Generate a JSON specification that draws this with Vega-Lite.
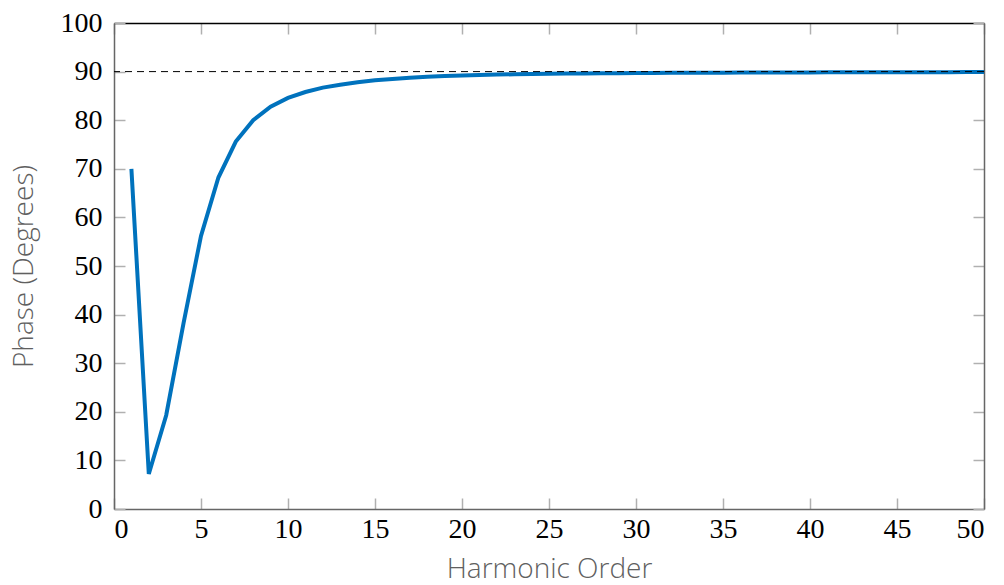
{
  "$schema": "https://vega.github.io/schema/vega-lite/v6.json",
  "width": 870,
  "height": 486,
  "autosize": {"type": "none"},
  "padding": {"left": 114, "top": 23, "right": 20, "bottom": 76},
  "background": "white",
  "config": {
    "view": {"stroke": null},
    "axis": {
      "grid": false,
      "domainColor": "#666666",
      "domainWidth": 1.5,
      "tickColor": "#b0b0b0",
      "tickWidth": 1.5,
      "tickSize": -11,
      "labelFont": "Liberation Serif",
      "labelFontSize": 28,
      "labelColor": "#000000",
      "titleFont": "Open Sans",
      "titleFontWeight": 300,
      "titleFontSize": 28,
      "titleColor": "#606060"
    }
  },
  "datasets": {
    "phase": [
      {"n": 1, "p": 70}, {"n": 2, "p": 7.2}, {"n": 3, "p": 19.3}, {"n": 4, "p": 38.3},
      {"n": 5, "p": 56.2}, {"n": 6, "p": 68.2}, {"n": 7, "p": 75.6}, {"n": 8, "p": 80.0},
      {"n": 9, "p": 82.8}, {"n": 10, "p": 84.6}, {"n": 11, "p": 85.8}, {"n": 12, "p": 86.7},
      {"n": 13, "p": 87.3}, {"n": 14, "p": 87.8}, {"n": 15, "p": 88.2}, {"n": 16, "p": 88.5},
      {"n": 17, "p": 88.75}, {"n": 18, "p": 88.95}, {"n": 19, "p": 89.1}, {"n": 20, "p": 89.2},
      {"n": 21, "p": 89.3}, {"n": 22, "p": 89.38}, {"n": 23, "p": 89.45}, {"n": 24, "p": 89.5},
      {"n": 25, "p": 89.55}, {"n": 26, "p": 89.59}, {"n": 27, "p": 89.62}, {"n": 28, "p": 89.65},
      {"n": 29, "p": 89.68}, {"n": 30, "p": 89.7}, {"n": 31, "p": 89.72}, {"n": 32, "p": 89.74},
      {"n": 33, "p": 89.76}, {"n": 34, "p": 89.77}, {"n": 35, "p": 89.78}, {"n": 36, "p": 89.8},
      {"n": 37, "p": 89.81}, {"n": 38, "p": 89.82}, {"n": 39, "p": 89.83}, {"n": 40, "p": 89.84},
      {"n": 41, "p": 89.85}, {"n": 42, "p": 89.855}, {"n": 43, "p": 89.86}, {"n": 44, "p": 89.87},
      {"n": 45, "p": 89.875}, {"n": 46, "p": 89.88}, {"n": 47, "p": 89.885}, {"n": 48, "p": 89.89},
      {"n": 49, "p": 89.895}, {"n": 50, "p": 89.9}
    ],
    "ref": [{"y": 90}]
  },
  "layer": [
    {
      "data": {"name": "phase"},
      "mark": {"type": "line", "color": "#0072BD", "strokeWidth": 4, "strokeJoin": "miter", "clip": true},
      "encoding": {
        "x": {
          "field": "n", "type": "quantitative",
          "scale": {"domain": [0, 50], "nice": false, "zero": false},
          "axis": {"title": "Harmonic Order", "values": [0,5,10,15,20,25,30,35,40,45,50], "labelPadding": 17, "titlePadding": 12, "orient": "bottom"}
        },
        "y": {
          "field": "p", "type": "quantitative",
          "scale": {"domain": [0, 100], "nice": false},
          "axis": {"title": "Phase (Degrees)", "values": [0,10,20,30,40,50,60,70,80,90,100], "labelPadding": 23, "titlePadding": 22, "orient": "left"}
        }
      }
    },
    {
      "data": {"name": "ref"},
      "mark": {"type": "rule", "color": "#000000", "strokeWidth": 1, "strokeDash": [7, 5]},
      "encoding": {
        "y": {"field": "y", "type": "quantitative", "scale": {"domain": [0, 100], "nice": false},
          "axis": {"orient": "right", "title": null, "labels": false, "values": [0,10,20,30,40,50,60,70,80,90,100]}}
      }
    },
    {
      "data": {"name": "ref"},
      "mark": {"type": "rule", "opacity": 0},
      "encoding": {
        "x": {"datum": 0, "type": "quantitative", "scale": {"domain": [0, 50], "nice": false, "zero": false},
          "axis": {"orient": "top", "title": null, "labels": false, "values": [0,5,10,15,20,25,30,35,40,45,50], "domainColor": "#000000"}}
      }
    }
  ],
  "resolve": {"axis": {"x": "independent", "y": "independent"}}
}
